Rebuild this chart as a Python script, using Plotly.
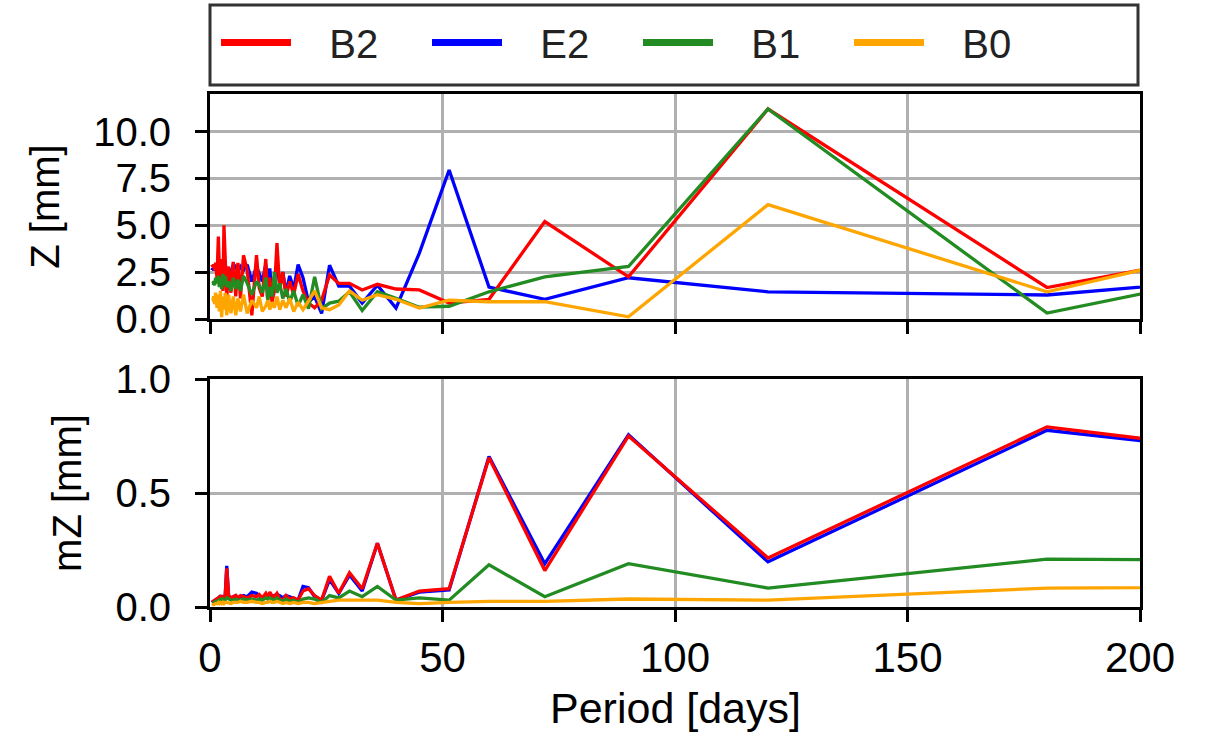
import plotly.graph_objects as go

# Periods of the harmonics, in days (longest first)
period_days = [360, 180, 120, 90, 72, 60, 51.43, 45, 40, 36, 32.73, 30, 27.69, 25.71,
               24, 22.5, 21.18, 20, 18.95, 18, 17.14, 16.36, 15.65, 15, 14.4, 13.85,
               13.33, 12.86, 12.41, 12, 11.25, 10.59, 10, 9, 8, 7.2, 6.55, 6, 5.54, 5,
               4.5, 4, 3.6, 3.27, 3, 2.77, 2.5, 2.25, 2, 1.8, 1.5, 1.2, 1, 0.8, 0.6, 0.4]

# Amplitude Z [mm]
z_b2 = [9.96, 1.68, 11.2, 2.25, 5.2, 1.05, 0.85, 1.55, 1.6, 1.85, 1.55, 1.9, 1.9, 2.35,
        1.0, 0.6, 0.85, 1.5, 2.4, 1.3, 2.0, 1.2, 2.5, 1.6, 4.05, 1.5,
        0.9, 2.2, 1.0, 3.2, 1.2, 1.65, 3.4, 0.2, 2.6, 3.4, 1.1, 3.0, 1.2, 3.05,
        1.4, 2.8, 1.1, 2.9, 5.0, 1.5, 3.2, 1.8, 2.8, 4.4, 2.2, 3.0, 2.6, 2.9, 2.8, 2.9]
z_e2 = [5.06, 1.28, 1.45, 2.2, 1.05, 1.7, 7.95, 3.5, 0.58, 1.8, 0.85, 1.75, 1.75, 2.87,
        0.3, 1.2, 0.9, 2.2, 2.9, 1.6, 2.3, 1.4, 2.5, 1.9, 2.8, 2.2,
        1.3, 2.7, 1.6, 2.9, 2.0, 2.4, 2.8, 2.0, 2.9, 2.6, 2.8, 2.5, 2.8, 2.9,
        2.4, 2.7, 2.5, 2.9, 2.8, 2.6, 2.9, 2.6, 2.8, 2.7, 2.9, 2.6, 2.8, 2.6, 2.7, 2.6]
z_b1 = [9.4, 0.32, 11.2, 2.8, 2.25, 1.45, 0.68, 0.63, 1.1, 1.45, 0.45, 1.45, 0.95, 0.85,
        0.55, 2.25, 0.55, 1.3, 0.7, 1.5, 0.9, 1.6, 1.1, 1.9, 1.4, 2.5,
        1.2, 1.7, 1.0, 2.2, 1.4, 1.8, 2.0, 1.3, 1.9, 2.3, 1.5, 2.1, 1.6, 2.2,
        1.5, 2.0, 1.7, 2.3, 1.8, 2.4, 1.6, 2.2, 1.7, 2.3, 1.9, 2.2, 1.8, 2.0, 1.9, 1.9]
z_b0 = [11.8, 1.45, 6.1, 0.12, 0.92, 0.92, 1.0, 0.58, 1.05, 1.3, 1.0, 1.5, 0.75, 0.5,
        0.6, 1.5, 0.95, 0.5, 0.9, 0.4, 1.1, 0.6, 1.0, 0.5, 1.2, 0.6,
        0.9, 0.5, 1.0, 0.7, 0.4, 1.2, 0.6, 1.0, 0.3, 1.3, 0.4, 1.1, 0.2, 1.2,
        0.3, 1.3, 0.2, 1.4, 0.5, 1.2, 0.1, 1.5, 0.4, 1.3, 0.6, 1.4, 0.8, 1.2, 1.0, 1.0]

# Uncertainty mZ [mm]
mz_b2 = [0.34, 0.79, 0.215, 0.75, 0.16, 0.655, 0.08, 0.07, 0.03, 0.28, 0.08, 0.15, 0.06, 0.135,
         0.03, 0.05, 0.08, 0.07, 0.03, 0.04, 0.035, 0.05, 0.03, 0.035, 0.06, 0.045,
         0.05, 0.065, 0.045, 0.06, 0.04, 0.055, 0.045, 0.05, 0.04, 0.045, 0.05, 0.04, 0.05, 0.045,
         0.04, 0.05, 0.17, 0.05, 0.04, 0.045, 0.04, 0.05, 0.04, 0.04, 0.035, 0.03, 0.03, 0.025, 0.02, 0.02]
mz_e2 = [0.37, 0.775, 0.198, 0.755, 0.19, 0.66, 0.075, 0.065, 0.03, 0.28, 0.07, 0.14, 0.06, 0.12,
         0.03, 0.045, 0.085, 0.09, 0.03, 0.04, 0.045, 0.05, 0.04, 0.05, 0.055, 0.05,
         0.045, 0.06, 0.04, 0.055, 0.035, 0.05, 0.06, 0.065, 0.045, 0.05, 0.045, 0.04, 0.05, 0.045,
         0.04, 0.05, 0.18, 0.05, 0.04, 0.045, 0.04, 0.05, 0.04, 0.04, 0.035, 0.03, 0.03, 0.025, 0.02, 0.02]
mz_b1 = [0.19, 0.21, 0.083, 0.19, 0.045, 0.185, 0.03, 0.04, 0.03, 0.09, 0.045, 0.07, 0.04, 0.05,
         0.02, 0.035, 0.04, 0.035, 0.02, 0.03, 0.025, 0.035, 0.025, 0.03, 0.04, 0.03,
         0.035, 0.04, 0.035, 0.04, 0.03, 0.035, 0.03, 0.035, 0.03, 0.035, 0.03, 0.03, 0.035, 0.03,
         0.03, 0.035, 0.04, 0.03, 0.03, 0.035, 0.03, 0.035, 0.03, 0.03, 0.025, 0.025, 0.02, 0.02, 0.015, 0.015]
mz_b0 = [0.10, 0.083, 0.03, 0.035, 0.025, 0.025, 0.02, 0.015, 0.02, 0.03, 0.03, 0.03, 0.03, 0.025,
         0.02, 0.015, 0.02, 0.02, 0.015, 0.02, 0.015, 0.02, 0.015, 0.02, 0.025, 0.02,
         0.02, 0.025, 0.02, 0.02, 0.015, 0.02, 0.02, 0.025, 0.02, 0.02, 0.025, 0.02, 0.02, 0.02,
         0.015, 0.02, 0.02, 0.02, 0.015, 0.02, 0.015, 0.02, 0.015, 0.02, 0.015, 0.015, 0.01, 0.01, 0.01, 0.01]

series_names = ["B2", "E2", "B1", "B0"]
colors = {"B2": "#ff0000", "E2": "#0000ff", "B1": "#228b22", "B0": "#ffa500"}
z_data = {"B2": z_b2, "E2": z_e2, "B1": z_b1, "B0": z_b0}
mz_data = {"B2": mz_b2, "E2": mz_e2, "B1": mz_b1, "B0": mz_b0}
draw_order = ["E2", "B2", "B1", "B0"]

FONT = "Liberation Sans, Arial, sans-serif"
NBSP = "\u00a0"
W, H = 1206, 745

fig = go.Figure()

for name in draw_order:
    fig.add_trace(go.Scatter(x=period_days, y=z_data[name], mode="lines",
                             line=dict(color=colors[name], width=3.3),
                             showlegend=False, xaxis="x", yaxis="y"))
for name in draw_order:
    fig.add_trace(go.Scatter(x=period_days, y=mz_data[name], mode="lines",
                             line=dict(color=colors[name], width=3.3),
                             showlegend=False, xaxis="x2", yaxis="y2"))

# legend entries with thicker line samples
for name in series_names:
    fig.add_trace(go.Scatter(x=[None], y=[None], mode="lines", name=NBSP * 3 + name,
                             line=dict(color=colors[name], width=7),
                             xaxis="x", yaxis="y"))

x_dom = [210 / W, 1140 / W]
axis_common = dict(
    showline=True, linecolor="black", linewidth=3, mirror=True,
    ticks="outside", ticklen=12, tickwidth=3, tickcolor="black",
    showgrid=True, gridcolor="#b0b0b0", gridwidth=3, zeroline=False,
    automargin=False,
)
y_tickfont = dict(size=40, color="black", family=FONT)
x_tickfont = dict(size=42, color="black", family=FONT)

fig.update_layout(
    width=W, height=H,
    margin=dict(l=0, r=0, t=0, b=0),
    paper_bgcolor="white", plot_bgcolor="white",
    font=dict(family=FONT, color="black"),
    xaxis=dict(domain=x_dom, anchor="y", range=[0, 200], dtick=50,
               showticklabels=False, tickfont=x_tickfont, **axis_common),
    yaxis=dict(domain=[1 - 319 / H, 1 - 94 / H], anchor="x", range=[0, 12],
               tickvals=[0, 2.5, 5, 7.5, 10], tickformat=".1f", tickfont=y_tickfont,
               ticklabelstandoff=16,
               title=dict(text="Z [mm]", font=dict(size=40, family=FONT), standoff=22),
               **axis_common),
    xaxis2=dict(domain=x_dom, anchor="y2", range=[0, 200], dtick=50, tickfont=x_tickfont,
                **axis_common),
    yaxis2=dict(domain=[1 - 607 / H, 1 - 379 / H], anchor="x2", range=[0, 1],
                tickvals=[0, 0.5, 1.0], tickformat=".1f", tickfont=y_tickfont,
                ticklabelstandoff=16,
                title=dict(text="mZ [mm]", font=dict(size=40, family=FONT), standoff=22),
                **axis_common),
    legend=dict(orientation="h", x=216 / W, y=1 - 10 / H, xanchor="left", yanchor="top",
                borderwidth=0, bgcolor="rgba(0,0,0,0)",
                font=dict(size=40, family=FONT, color="#222222"),
                itemwidth=70, entrywidth=126, entrywidthmode="pixels",
                traceorder="normal"),
    # x-axis title of the lower panel
    annotations=[dict(text="Period [days]", xref="paper", yref="paper",
                      x=(x_dom[0] + x_dom[1]) / 2, y=1 - 708 / H,
                      xanchor="center", yanchor="middle", showarrow=False,
                      font=dict(size=43, family=FONT, color="black"))],
    # frame around the legend row
    shapes=[dict(type="rect", xref="paper", yref="paper",
                 x0=210 / W, x1=1138 / W, y0=1 - 85 / H, y1=1 - 5 / H,
                 line=dict(color="#333333", width=3), fillcolor="rgba(0,0,0,0)",
                 layer="below")],
)

fig.write_html("out.html")
